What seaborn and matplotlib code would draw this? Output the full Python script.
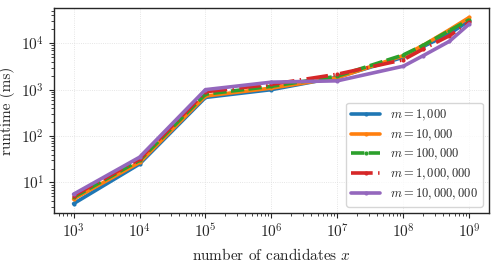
import numpy as np
import pandas as pd
import matplotlib
matplotlib.use('Agg')
import matplotlib.pyplot as plt
import seaborn as sns

# number of candidates x
candidates = [1e3, 1e4, 1e5, 1e6, 1e7, 1e8, 2e8, 5e8, 1e9]

# runtime (ms) per m
rt_1k = [3.5, 25, 680, 1000, 1850, 5000, 8500, 16000, 30500]
rt_10k = [4.4, 27, 730, 1080, 1800, 5400, 9000, 19500, 36000]
rt_100k = [4.8, 30, 800, 1180, 1950, 5600, 9000, 18700, 32000]
rt_1m = [5.2, 32, 900, 1300, 2150, 4400, 7500, 14500, 28000]
rt_10m = [5.6, 35, 1000, 1450, 1550, 3200, 5400, 11000, 26000]

labels = [r'$m = 1,000$', r'$m = 10,000$', r'$m = 100,000$',
          r'$m = 1,000,000$', r'$m = 10,000,000$']
series = [rt_1k, rt_10k, rt_100k, rt_1m, rt_10m]

rows = []
for lab, vals in zip(labels, series):
    for x, v in zip(candidates, vals):
        rows.append({'x': x, 'runtime': v, 'm': lab})
df = pd.DataFrame(rows)

sns.set_style('ticks')
plt.rcParams['font.family'] = ['cmr10', 'DejaVu Serif']
plt.rcParams['mathtext.fontset'] = 'cm'
plt.rcParams['axes.formatter.use_mathtext'] = True
plt.rcParams['axes.unicode_minus'] = False

fig, ax = plt.subplots(figsize=(4.98, 2.61), dpi=100)
fig.subplots_adjust(left=0.108, right=0.982, top=0.969, bottom=0.184)

palette = dict(zip(labels, sns.color_palette('tab10', 5)))
dashes = dict(zip(labels, ['', '', (3.7, 1.2), (6, 1.5, 0.4, 1.5), '']))

sns.lineplot(data=df, x='x', y='runtime', hue='m', style='m',
             palette=palette, dashes=dashes, markers=dict(zip(labels, ['.'] * 5)),
             markersize=6, markeredgewidth=0, linewidth=2.6, ax=ax)

ax.set_xscale('log')
ax.set_yscale('log')
ax.set_xlabel(r'number of candidates $x$', fontsize=11)
ax.set_ylabel('runtime (ms)', fontsize=11)
ax.yaxis.set_label_coords(-0.088, 0.5)
ax.tick_params(labelsize=11)
ax.grid(True, which='major', linestyle=':', linewidth=0.6, color='#dddddd')
for s in ax.spines.values():
    s.set_linewidth(1.0)

leg = ax.legend(loc='lower right', fontsize=9, frameon=True, handlelength=2.3,
                handletextpad=0.8, borderpad=0.4, labelspacing=0.35)
leg.get_frame().set_edgecolor('#cccccc')

fig.savefig('out.png', dpi=100)
